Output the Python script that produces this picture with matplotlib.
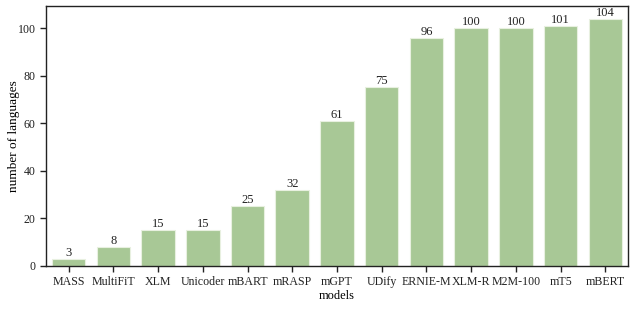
import matplotlib.pyplot as plt
import numpy as np

models = ["MASS", "MultiFiT", "XLM", "Unicoder", "mBART", "mRASP", "mGPT",
          "UDify", "ERNIE-M", "XLM-R", "M2M-100", "mT5", "mBERT"]
n_languages = [3, 8, 15, 15, 25, 32, 61, 75, 96, 100, 100, 101, 104]

plt.rcParams['font.family'] = ['Liberation Serif', 'DejaVu Serif']
plt.rcParams['font.size'] = 8.6

fig, ax = plt.subplots(figsize=(6.34, 3.09), dpi=100)
x = np.arange(len(models))
bars = ax.bar(x, n_languages, width=0.75, color="#a8c896", edgecolor="#e8f0e0", linewidth=0.8)
ax.bar_label(bars, labels=[str(v) for v in n_languages], padding=0, color="#222222", fontsize=9)

ax.set_xticks(x)
ax.set_xticklabels(models)
ax.set_xlim(-0.5, len(models) - 0.5)
ax.set_ylim(0, 109.2)
ax.set_xlabel("models", labelpad=1.5, fontsize=9)
ax.set_ylabel("number of languages", fontsize=9.5)
ax.yaxis.set_label_coords(-0.046, 0.5)
ax.tick_params(direction="out", length=4, width=1, colors="#222222")
for s in ax.spines.values():
    s.set_color("#222222")
    s.set_linewidth(1)

fig.subplots_adjust(left=0.073, right=0.99, top=0.98, bottom=0.14)
fig.savefig("out.png")
